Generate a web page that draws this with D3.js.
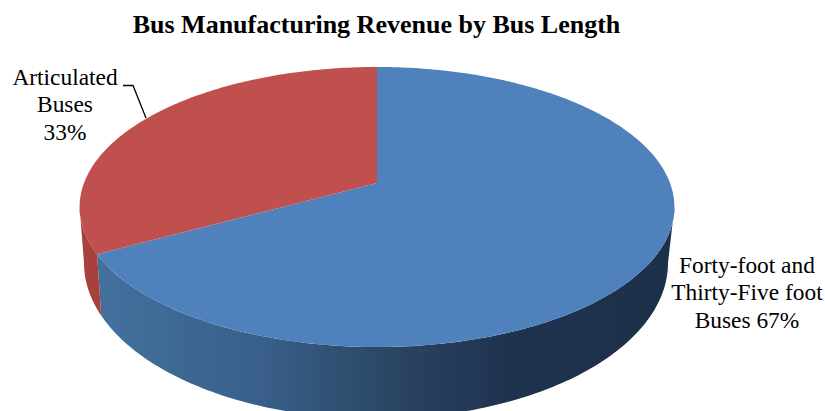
<!DOCTYPE html>
<html>
<head>
<meta charset="utf-8">
<script src="https://cdn.jsdelivr.net/npm/d3@7"></script>
<style>
  html, body { margin: 0; padding: 0; background: #fff; }
  svg { display: block; }
  text { font-family: "Liberation Serif", serif; fill: #000; }
</style>
</head>
<body>
<script>
var svgWidth = 825;
var svgHeight = 411;

// chart data
var categories = ["Forty-foot and Thirty-Five foot Buses", "Articulated Buses"];
var shares = [67, 33];
var topColors = ["#4f81bd", "#c0504d"];
var labelLines = [
  ["Forty-foot and", "Thirty-Five foot", "Buses 67%"],
  ["Articulated", "Buses", "33%"]
];
var titleText = "Bus Manufacturing Revenue by Bus Length";

// pie geometry: a flat circle seen in perspective, top rim and bottom rim
var tilt = -0.1714;
var topRim = { x: 377, y: 183, spreadX: 293, spreadY: 135.9 };
var bottomRim = { x: 376, y: 236, spreadX: 287.7, spreadY: 151.4 };

function project(angle, rim) {
  var px = Math.sin(angle);
  var py = -Math.cos(angle);
  var w = 1 + tilt * py;
  return [rim.x + rim.spreadX * px / w, rim.y + rim.spreadY * py / w];
}

// angle where the rim is widest, the side wall starts there
var rimAngle = Math.acos(tilt);

function arcPoints(a0, a1, rim) {
  var n = Math.max(2, Math.ceil(Math.abs(a1 - a0) * 60));
  return d3.range(n + 1).map(function(i) {
    return project(a0 + (a1 - a0) * i / n, rim);
  });
}

var line = d3.line().curve(d3.curveLinear);

var svg = d3.select("body")
  .append("svg")
  .attr("width", svgWidth)
  .attr("height", svgHeight);

var slices = d3.pie().sort(null)(shares);

// shaded side of the blue slice runs left to right
var defs = svg.append("defs");
var grad = defs.append("linearGradient")
  .attr("id", "wallBlue")
  .attr("gradientUnits", "userSpaceOnUse")
  .attr("x1", 80).attr("x2", 672)
  .attr("y1", 0).attr("y2", 0);
[[0, "#44739f"], [0.3, "#39608b"], [0.55, "#29435f"], [0.72, "#1f334f"], [1, "#1d3049"]]
  .forEach(function(s) {
    grad.append("stop").attr("offset", s[0]).attr("stop-color", s[1]);
  });

// walls first, top faces go over them
function wall(a0, a1, fill) {
  var pts = arcPoints(a0, a1, topRim).concat(arcPoints(a1, a0, bottomRim));
  svg.append("path").attr("d", line(pts) + "Z").attr("fill", fill);
}
var cut = slices[0].endAngle;
wall(rimAngle, cut, "url(#wallBlue)");
wall(cut, 2 * Math.PI - rimAngle, "#a8403e");

svg.selectAll("path.top")
  .data(slices)
  .enter()
  .append("path")
  .attr("class", "top")
  .attr("d", function(d) {
    return line([[topRim.x, topRim.y]].concat(arcPoints(d.startAngle, d.endAngle, topRim))) + "Z";
  })
  .attr("fill", function(d, i) { return topColors[i]; });

// title
svg.append("text")
  .attr("x", 376.5)
  .attr("y", 33)
  .attr("text-anchor", "middle")
  .attr("font-size", "26px")
  .attr("font-weight", "bold")
  .text(titleText);

// labels
var labelSpots = [{ x: 747, y: 273 }, { x: 65, y: 85 }];
labelLines.forEach(function(lines, i) {
  svg.append("g")
    .selectAll("text")
    .data(lines)
    .enter()
    .append("text")
    .attr("x", labelSpots[i].x)
    .attr("y", function(d, j) { return labelSpots[i].y + j * 27.3; })
    .attr("text-anchor", "middle")
    .attr("font-size", "23.4px")
    .text(function(d) { return d; });
});

// leader line for the articulated slice
svg.append("path")
  .attr("d", line([[123, 85.5], [133, 85.5], [146, 118]]))
  .attr("fill", "none")
  .attr("stroke", "#000")
  .attr("stroke-width", 1.3);
</script>
</body>
</html>
